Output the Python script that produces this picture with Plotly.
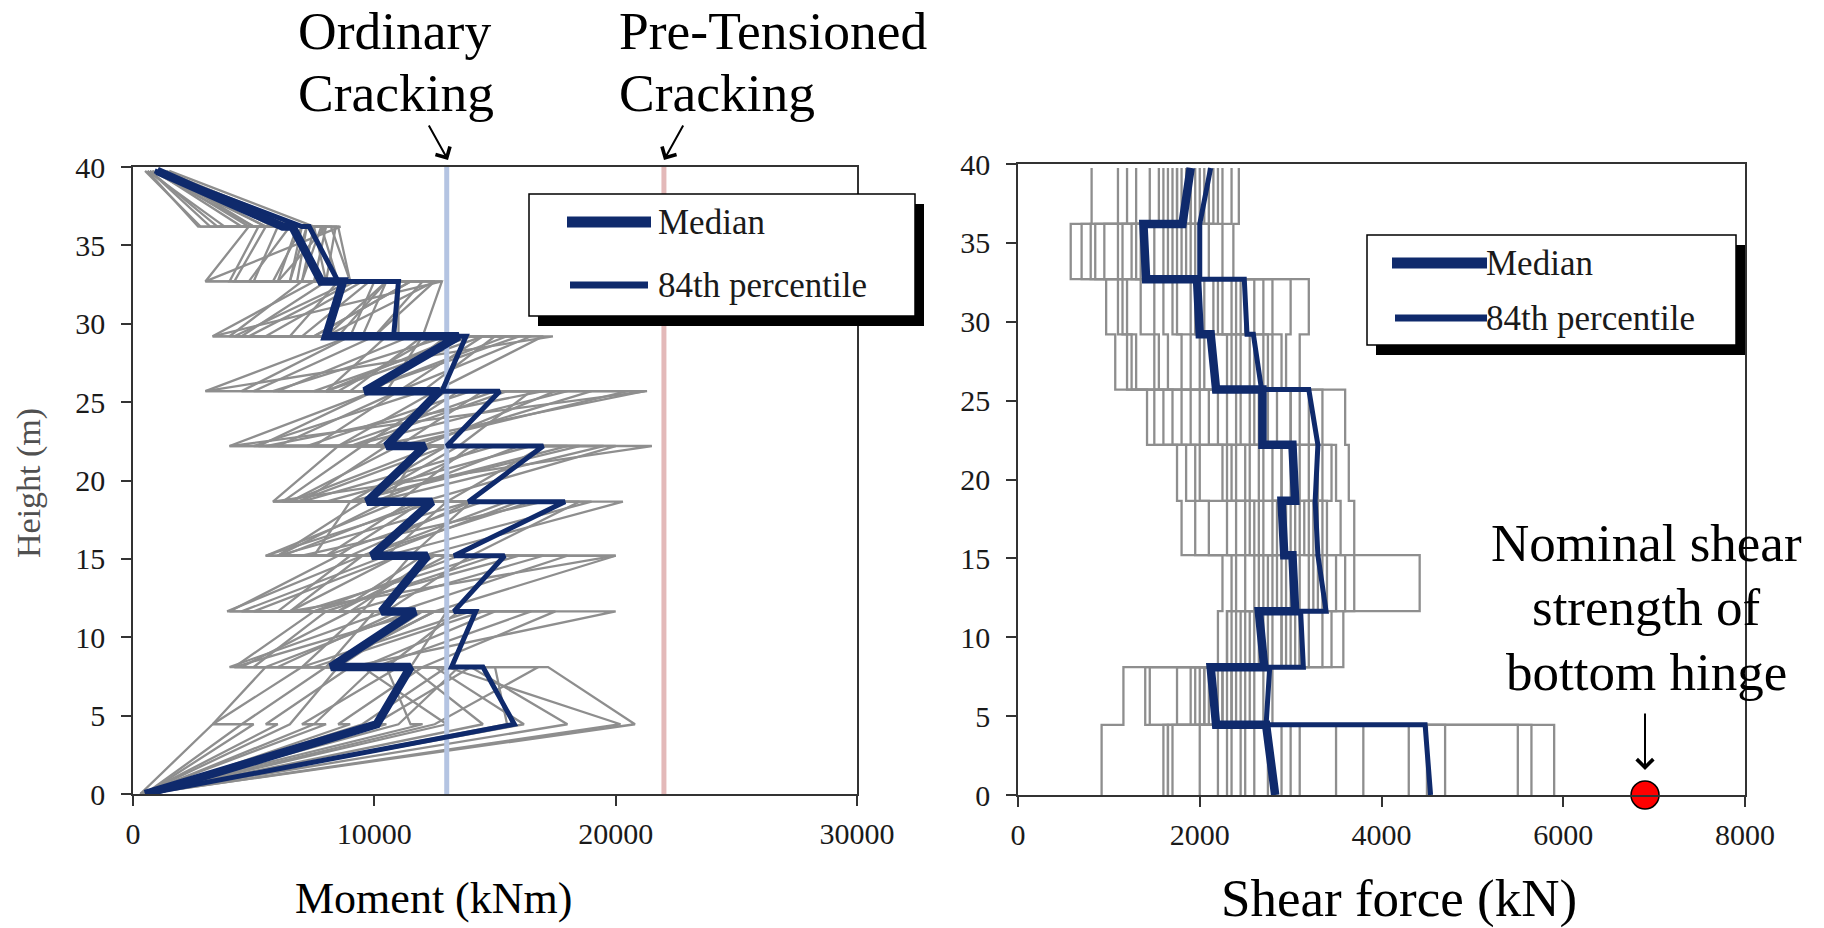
import plotly.graph_objects as go

W, H = 1824, 928

# ---------------- data ----------------
floor_heights = [0, 4.45, 8.1, 11.65, 15.2, 18.65, 22.2, 25.7, 29.2, 32.7, 36.2, 39.75]

# Moment profiles (kNm): base value, then (below, above) at the 10 floors, then top value
moment_median = [500, 9900, 10100, 11500, 8200, 11700, 10300, 12200, 9900, 12400, 9700,
                 12100, 10500, 12700, 9600, 13500, 8000, 8700, 7800, 6600, 6200, 1000]
moment_p84 = [500, 15800, 15800, 14500, 13200, 14200, 13300, 15400, 13300, 17900, 13900,
              17000, 13000, 15200, 12800, 13800, 10800, 11000, 8500, 7300, 7000, 900]
moment_records = [
    [400, 20800, 20800, 17200, 4200, 12000, 3900, 9500, 6000, 14000, 5800, 21500, 4000, 21300, 3000, 17400, 3300, 12800, 3000, 8600, 2700, 600],
    [500, 20200, 20200, 13000, 9000, 20000, 6500, 20000, 12000, 20300, 7000, 15000, 5500, 17000, 9000, 12000, 4200, 9000, 5000, 6000, 4800, 1000],
    [300, 16200, 16200, 12500, 7500, 14500, 8000, 15000, 7000, 17000, 9000, 18500, 10000, 21200, 8000, 14500, 7500, 11500, 6000, 8000, 5500, 800],
    [400, 6000, 5500, 9000, 4000, 10500, 5000, 11000, 6200, 12000, 6800, 13000, 7200, 14000, 5800, 13000, 5500, 9500, 5800, 7000, 5000, 1200],
    [500, 5000, 3300, 7000, 4500, 9000, 4500, 10500, 5500, 12500, 6500, 11000, 5000, 12000, 6000, 11500, 4800, 9200, 4800, 6500, 3500, 700],
    [300, 11000, 11000, 13500, 8500, 12000, 8500, 13000, 9000, 14000, 9500, 13500, 9000, 15500, 10000, 13000, 9500, 10500, 8000, 7500, 6000, 900],
    [400, 14500, 14500, 11500, 9500, 15000, 9000, 12500, 10000, 16000, 11000, 14000, 10000, 13500, 11000, 14500, 9000, 10000, 7500, 8000, 6500, 1100],
    [600, 9000, 8500, 12000, 6000, 11000, 7000, 14500, 8500, 12000, 8000, 16500, 9500, 13000, 8500, 12500, 7000, 9800, 6800, 7200, 5800, 1300],
    [400, 6500, 6500, 8500, 5000, 8000, 6500, 9500, 7500, 9000, 7000, 10500, 7500, 11000, 8000, 10500, 6500, 8500, 6000, 6800, 4500, 900],
    [500, 12500, 12500, 16800, 10500, 13500, 11000, 18000, 9500, 15500, 12000, 20000, 11500, 19000, 12500, 17000, 12000, 12800, 9000, 8500, 7500, 1500],
    [300, 3300, 3300, 5500, 4200, 7500, 4000, 8500, 6000, 9500, 5800, 8500, 4000, 10000, 3000, 9000, 3300, 7500, 3000, 4800, 2800, 500],
    [400, 10500, 10000, 14000, 11500, 13000, 9500, 11500, 10500, 13000, 10500, 12000, 11000, 14500, 10500, 12000, 11000, 11000, 8500, 7800, 6500, 1000],
    [500, 15500, 15500, 15000, 12000, 17500, 12500, 20000, 14000, 18500, 13000, 17000, 13500, 16500, 12000, 15000, 10000, 12000, 9000, 8200, 7000, 1200],
    [300, 8000, 7500, 10000, 7000, 9500, 6500, 11000, 6000, 10500, 6200, 9500, 5200, 10000, 4500, 9000, 4000, 7000, 4200, 5500, 3800, 600],
    [400, 7500, 7000, 11000, 8000, 12500, 8500, 12000, 8000, 11500, 9500, 14500, 8500, 12500, 8000, 13500, 8500, 10500, 7000, 7500, 6200, 1400],
    [500, 13000, 13000, 9500, 8000, 10000, 7500, 16000, 11500, 14000, 9000, 18000, 11000, 20500, 9500, 16000, 8000, 12500, 6500, 7000, 5000, 800],
    [400, 9500, 9500, 13000, 8000, 12500, 7500, 13500, 8000, 14500, 9000, 13000, 8500, 15000, 7500, 14000, 8000, 10500, 6500, 7200, 5500, 1000],
    [300, 12000, 11500, 10500, 7000, 14000, 9000, 17000, 10500, 19000, 10000, 16000, 9000, 18000, 9500, 15500, 7500, 11500, 7000, 7800, 6000, 900],
    [500, 4500, 4500, 8000, 5500, 11500, 6000, 9000, 5500, 11000, 6500, 12500, 6000, 11000, 5000, 10000, 4500, 8000, 4000, 5200, 3200, 700],
    [400, 18000, 18000, 14000, 10000, 16500, 10500, 14000, 9500, 16500, 10000, 19500, 12000, 17500, 11000, 16500, 10000, 12500, 8000, 8400, 6800, 1300],
]

# Cracking moments (kNm)
cracking_labels = ["Ordinary Cracking", "Pre-Tensioned Cracking"]
cracking_moments = [13000, 22000]
cracking_colors = ["#b4c4e2", "#e3b9b9"]

# Shear profiles (kN): (bottom, top) of each of the 11 storeys
shear_median = [2830, 2730, 2180, 2120, 2710, 2650, 3050, 3020, 2930, 2900, 3050, 3020,
                2690, 2690, 2180, 2120, 2000, 1970, 1410, 1380, 1810, 1900]
shear_p84 = [4540, 4480, 2730, 2770, 3140, 3110, 3390, 3300, 3300, 3270, 3270, 3300,
             3300, 3200, 2680, 2590, 2520, 2490, 2000, 2000, 2000, 2120]
# Shear of each record, one value per storey (kN)
shear_records = [
    [920, 1160, 2200, 2250, 1800, 1750, 1420, 1070, 970, 580, 810],
    [1600, 1900, 2300, 2400, 2100, 2000, 1600, 1300, 1150, 850, 1300],
    [1650, 2050, 2500, 2600, 2400, 2300, 1900, 1550, 1500, 1100, 1550],
    [2000, 2150, 2700, 2900, 2700, 2500, 2100, 1800, 1700, 1250, 1650],
    [2200, 2300, 2650, 2750, 2850, 2650, 2300, 2000, 1900, 1400, 1750],
    [2300, 2450, 2900, 3100, 3000, 2800, 2450, 2150, 2050, 1500, 1800],
    [2350, 1950, 2600, 3300, 3200, 3000, 2700, 2400, 2250, 1700, 1900],
    [2600, 2500, 3000, 3000, 2800, 3100, 2850, 2550, 2400, 1800, 2000],
    [2900, 2350, 3200, 3500, 3400, 3300, 3000, 2700, 2600, 2000, 2100],
    [3000, 2600, 3350, 3600, 3300, 3450, 3200, 2900, 2800, 2100, 2200],
    [3500, 2700, 3580, 4420, 3700, 3640, 3600, 3100, 3200, 2370, 2430],
    [3800, 2200, 2900, 2800, 2600, 2400, 2200, 1900, 1750, 1300, 1700],
    [4300, 2050, 2750, 3200, 3100, 2900, 2550, 2300, 2150, 1600, 1950],
    [4700, 2800, 3450, 3700, 3550, 3500, 3350, 2950, 3000, 2250, 2350],
    [5500, 1750, 2400, 2700, 2500, 2250, 1800, 1500, 1350, 950, 1450],
    [5650, 2250, 3100, 3400, 3250, 3200, 3000, 2750, 2700, 1950, 2050],
    [5900, 2400, 3050, 2950, 3050, 2700, 2600, 2450, 2350, 1750, 1850],
    [2500, 1400, 2350, 2500, 2300, 1950, 1700, 1200, 1100, 700, 1100],
    [1700, 2100, 2450, 2650, 2550, 2350, 2000, 1650, 1600, 1150, 1600],
    [2450, 2250, 2800, 3050, 2950, 2900, 2650, 2350, 2200, 1650, 1900],
    [3100, 2550, 3100, 3250, 3150, 3350, 3100, 2800, 2500, 1900, 2150],
    [4500, 2350, 2950, 3350, 3350, 3050, 2750, 2600, 2450, 1850, 2250],
    [2750, 2000, 2550, 2850, 2650, 2550, 2400, 2050, 1950, 1350, 1750],
    [1650, 1450, 2300, 2350, 1950, 1850, 1500, 1250, 1200, 800, 1200],
]

nominal_shear_strength = 6900
nominal_height = 0

x_ticks_moment = [0, 10000, 20000, 30000]
x_ticks_shear = [0, 2000, 4000, 6000, 8000]
y_ticks = [0, 5, 10, 15, 20, 25, 30, 35, 40]

# ---------------- helpers ----------------
moment_y = [floor_heights[0]]
for h in floor_heights[1:-1]:
    moment_y += [h, h]
moment_y.append(floor_heights[-1])

shear_y = []
for i in range(len(floor_heights) - 1):
    shear_y += [floor_heights[i], floor_heights[i + 1]]


def step_x(vals):
    out = []
    for v in vals:
        out += [v, v]
    return out


def px(x):
    return x / W


def py(y):
    return 1 - y / H


FONT = "Liberation Serif"
GREY = "#8e8e8e"
NAVY = "#0f2a6c"

fig = go.Figure()

# Left: moments
for prof in moment_records:
    fig.add_trace(go.Scatter(x=prof, y=moment_y, mode="lines", line=dict(color=GREY, width=2.3),
                             xaxis="x", yaxis="y", hoverinfo="skip", showlegend=False))
for m, c, name in zip(cracking_moments, cracking_colors, cracking_labels):
    fig.add_trace(go.Scatter(x=[m, m], y=[0, 40], mode="lines", line=dict(color=c, width=5),
                             xaxis="x", yaxis="y", name=name, showlegend=False))
fig.add_trace(go.Scatter(x=moment_p84, y=moment_y, mode="lines", line=dict(color=NAVY, width=5),
                         xaxis="x", yaxis="y", name="84th percentile", showlegend=False))
fig.add_trace(go.Scatter(x=moment_median, y=moment_y, mode="lines", line=dict(color=NAVY, width=8.5),
                         xaxis="x", yaxis="y", name="Median", showlegend=False))

# Right: shear
for prof in shear_records:
    fig.add_trace(go.Scatter(x=step_x(prof), y=shear_y, mode="lines", line=dict(color=GREY, width=2.3),
                             xaxis="x2", yaxis="y2", hoverinfo="skip", showlegend=False))
fig.add_trace(go.Scatter(x=shear_p84, y=shear_y, mode="lines", line=dict(color=NAVY, width=5),
                         xaxis="x2", yaxis="y2", name="84th percentile", showlegend=False))
fig.add_trace(go.Scatter(x=shear_median, y=shear_y, mode="lines", line=dict(color=NAVY, width=8.5),
                         xaxis="x2", yaxis="y2", name="Median", showlegend=False))
fig.add_trace(go.Scatter(x=[nominal_shear_strength], y=[nominal_height], mode="markers",
                         marker=dict(size=28, color="#ff0000", line=dict(color="#000000", width=1.5)),
                         cliponaxis=False, xaxis="x2", yaxis="y2", name="Nominal shear strength",
                         showlegend=False))

axis_common = dict(showline=True, linecolor="#333333", linewidth=1.6, mirror=True,
                   ticks="outside", ticklen=10, tickwidth=1.6, tickcolor="#333333",
                   showgrid=False, zeroline=False, automargin=False,
                   tickfont=dict(family=FONT, size=30, color="#1a1a1a"))

fig.update_layout(
    width=W, height=H, margin=dict(l=0, r=0, t=0, b=0, pad=0, autoexpand=False),
    paper_bgcolor="white", plot_bgcolor="white", showlegend=False,
    font=dict(family=FONT, color="#000000"),
    xaxis=dict(domain=[px(133), px(857)], range=[0, 30000], tickvals=x_ticks_moment,
               tickformat="d", anchor="y", ticklabelstandoff=2, **axis_common),
    yaxis=dict(domain=[py(794), py(167)], range=[0, 40], tickvals=y_ticks, anchor="x",
               ticklabelstandoff=10, **axis_common),
    xaxis2=dict(domain=[px(1018), px(1745)], range=[0, 8000], tickvals=x_ticks_shear,
                tickformat="d", anchor="y2", ticklabelstandoff=2, **axis_common),
    yaxis2=dict(domain=[py(795), py(164)], range=[0, 40], tickvals=y_ticks, anchor="x2",
                ticklabelstandoff=10, **axis_common),
)

shapes = []
annotations = []


def legend_box(x0, y0, x1, y1, med_line, p84_line, text_x, med_y, p84_y):
    shapes.append(dict(type="rect", xref="paper", yref="paper", layer="above",
                       x0=px(x0 + 9), x1=px(x1 + 9), y0=py(y1 + 10), y1=py(y0 + 10),
                       fillcolor="#000000", line=dict(width=0)))
    shapes.append(dict(type="rect", xref="paper", yref="paper", layer="above",
                       x0=px(x0), x1=px(x1), y0=py(y1), y1=py(y0),
                       fillcolor="#ffffff", line=dict(color="#000000", width=1.5)))
    shapes.append(dict(type="line", xref="paper", yref="paper", layer="above",
                       x0=px(med_line[0]), x1=px(med_line[1]), y0=py(med_y), y1=py(med_y),
                       line=dict(color=NAVY, width=11)))
    shapes.append(dict(type="line", xref="paper", yref="paper", layer="above",
                       x0=px(p84_line[0]), x1=px(p84_line[1]), y0=py(p84_y), y1=py(p84_y),
                       line=dict(color=NAVY, width=7)))
    for txt, yy in (("Median", med_y), ("84th percentile", p84_y)):
        annotations.append(dict(text=txt, xref="paper", yref="paper", x=px(text_x), y=py(yy),
                                xanchor="left", yanchor="middle", showarrow=False,
                                font=dict(family=FONT, size=35, color="#1a1a1a")))


legend_box(529, 194, 915, 316, (567, 651), (570, 648), 656, 222, 285)
legend_box(1367, 235, 1736, 345, (1392, 1487), (1395, 1487), 1484, 263, 318)


def text(t, x, y, size=53.5, anchor="left"):
    annotations.append(dict(text=t, xref="paper", yref="paper", x=px(x), y=py(y),
                            xanchor=anchor, yanchor="middle", showarrow=False,
                            font=dict(family=FONT, size=size, color="#000000")))


text("Ordinary", 296, 31)
text("Cracking", 296, 93)
text("Pre-Tensioned", 617, 31)
text("Cracking", 617, 93)
text("Nominal shear", 1646, 543, size=53, anchor="center")
text("strength of", 1646, 607, size=53, anchor="center")
text("bottom hinge", 1646, 672, size=53, anchor="center")
text("Moment (kNm)", 433, 898, size=44, anchor="center")
text("Shear force (kN)", 1399, 898, size=53, anchor="center")
annotations.append(dict(text="Height (m)", xref="paper", yref="paper", x=px(29), y=py(483),
                        textangle=-90, showarrow=False, xanchor="center", yanchor="middle",
                        font=dict(family=FONT, size=34, color="#505050")))

# arrows
for xh, yh, xt, yt in ((448, 160, 428, 124), (664, 160, 684, 124), (1645, 770, 1645, 712)):
    annotations.append(dict(text="", xref="paper", yref="paper", x=px(xh), y=py(yh),
                            axref="pixel", ayref="pixel", ax=xt - xh, ay=yt - yh,
                            showarrow=True, arrowhead=4, arrowsize=1.6, arrowwidth=2,
                            arrowcolor="#000000"))

fig.update_layout(shapes=shapes, annotations=annotations)
fig.write_html("out.html")
